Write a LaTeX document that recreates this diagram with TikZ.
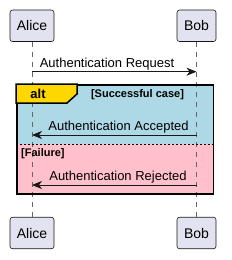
\documentclass[tikz,border=0pt]{standalone}
\usepackage{fontspec}
\setmainfont{Liberation Sans}
\usetikzlibrary{arrows.meta}
\definecolor{partfill}{HTML}{E2E2F0}
\definecolor{partdraw}{HTML}{181818}
\definecolor{altblue}{HTML}{ADD8E6}
\definecolor{altpink}{HTML}{FFC0CB}
\definecolor{tabgold}{HTML}{FFD700}
\begin{document}
\begin{tikzpicture}[x=1pt,y=-1pt,
  part/.style={draw=partdraw, fill=partfill, rounded corners=2.5pt, line width=0.6pt,
    inner sep=0pt, minimum height=31.5pt, font=\fontsize{14}{16}\selectfont},
  lifeline/.style={draw=gray!80!black, dash pattern=on 5pt off 5pt, line width=0.5pt},
  msg/.style={draw=partdraw, line width=0.9pt, -{Stealth[length=10pt,width=8pt,inset=3pt]}},
  msglabel/.style={font=\fontsize{13}{15}\selectfont, inner sep=0pt},
  guard/.style={font=\bfseries\fontsize{11}{13}\selectfont, inner sep=0pt},
  framebox/.style={draw=black, line width=1.5pt, inner sep=0pt}]
\useasboundingbox (0,0) rectangle (231,260);
% participants
\node[part, minimum width=44pt] (a1) at (32,25.75) {Alice};
\node[part, minimum width=39pt] (b1) at (196.5,25.75) {Bob};
\node[part, minimum width=44pt] (a2) at (32,233) {Alice};
\node[part, minimum width=39pt] (b2) at (196.5,233) {Bob};
% alt fills
\fill[altblue] (16,84) rectangle (212.7,144);
\fill[altpink] (16,144) rectangle (212.7,193.3);
% lifelines
\draw[lifeline] (a1.south) -- (a2.north);
\draw[lifeline] (b1.south) -- (b2.north);
% separator
\draw[black, line width=0.6pt, dash pattern=on 2pt off 2pt] (16,144) -- (212.7,144);
% frame
\node[framebox, minimum width=196.7pt, minimum height=109.3pt, anchor=north west] (frame) at (16,84) {};
% tab
\draw[fill=tabgold, line width=1.5pt, line join=miter] (16,84) -- (77,84) -- (77,94) -- (67,103) -- (16,103) -- cycle;
\node[font=\bfseries\fontsize{13}{15}\selectfont, inner sep=0pt] (alt) at (38,94) {alt};
\node[guard] (g1) at (137.5,94.7) {[Successful case]};
\node[guard, anchor=west] (g2) at (21,154) {[Failure]};
% messages
\coordinate (m1a) at (32,71.7);
\coordinate (m1b) at (196.5,71.7);
\draw[msg] (m1a) -- (m1b);
\node[msglabel] (l1) at (107,64.5) {Authentication Request};
\coordinate (m2a) at (32,135);
\coordinate (m2b) at (196.5,135);
\draw[msg] (m2b) -- (m2a);
\node[msglabel] (l2) at (118.5,126.7) {Authentication Accepted};
\coordinate (m3a) at (32,185);
\coordinate (m3b) at (196.5,185);
\draw[msg] (m3b) -- (m3a);
\node[msglabel] (l3) at (118,176.7) {Authentication Rejected};
\end{tikzpicture}
\end{document}
